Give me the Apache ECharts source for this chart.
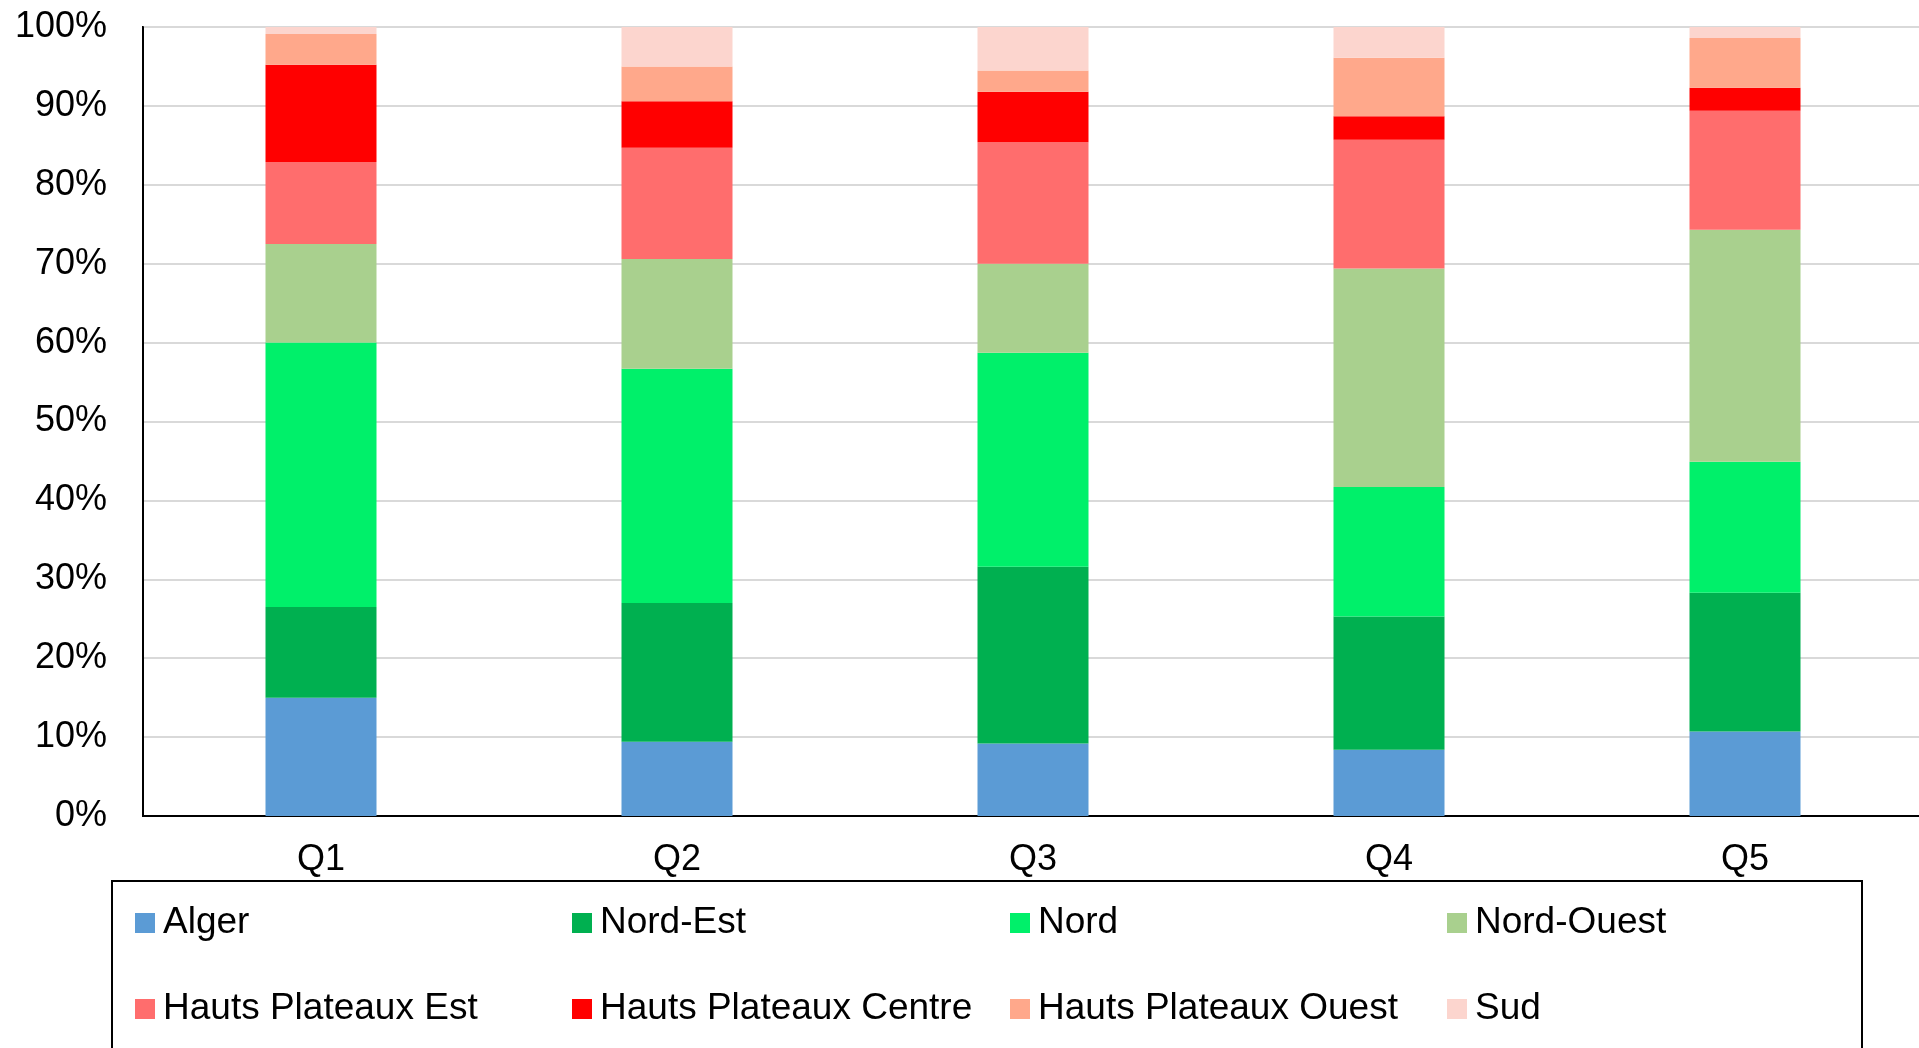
<!DOCTYPE html>
<html>
<head>
<meta charset="utf-8">
<style>
  html, body { margin: 0; padding: 0; background: #fff; overflow: hidden; }
  #chart { width: 1930px; height: 1048px; }
</style>
<script src="https://cdn.jsdelivr.net/npm/echarts@6/dist/echarts.min.js"></script>
</head>
<body>
<div id="chart"></div>
<script>
const categories = ['Q1', 'Q2', 'Q3', 'Q4', 'Q5'];
const alger      = [15.0,  9.4,  9.2,  8.4, 10.7];
const nordEst    = [11.5, 17.6, 22.4, 16.9, 17.6];
const nord       = [33.5, 29.7, 27.1, 16.4, 16.6];
const nordOuest  = [12.5, 13.9, 11.3, 27.7, 29.4];
const hpEst      = [10.4, 14.1, 15.4, 16.3, 15.1];
const hpCentre   = [12.3,  5.9,  6.4,  3.0,  2.9];
const hpOuest    = [ 3.9,  4.4,  2.7,  7.4,  6.3];
const sud        = [ 0.9,  5.0,  5.5,  3.9,  1.4];

const seriesNames = ['Alger', 'Nord-Est', 'Nord', 'Nord-Ouest',
  'Hauts Plateaux Est', 'Hauts Plateaux Centre', 'Hauts Plateaux Ouest', 'Sud'];
const seriesData = [alger, nordEst, nord, nordOuest, hpEst, hpCentre, hpOuest, sud];
const colors = ['#5B9BD5', '#00B050', '#00F06A', '#A9D08E', '#FF6D6D', '#FF0000', '#FFA88B', '#FCD5CE'];

const FONT = '"Liberation Sans", Arial, Helvetica, sans-serif';

const chart = echarts.init(document.getElementById('chart'), null, { renderer: 'canvas' });

const legendCols = [[0, 4], [1, 5], [2, 6], [3, 7]];
const colLeft = [135, 572, 1010, 1447];

const legends = legendCols.map((idx, c) => ({
  show: true,
  orient: 'vertical',
  left: colLeft[c],
  top: 903,
  padding: 0,
  itemWidth: 20,
  itemHeight: 20,
  itemGap: 46,
  icon: 'rect',
  selectedMode: false,
  data: idx.map(i => seriesNames[i]),
  textStyle: { fontFamily: FONT, fontSize: 37, color: '#000', lineHeight: 40, padding: [0, 0, 0, 3] }
}));

chart.setOption({
  animation: false,
  backgroundColor: '#fff',
  color: colors,
  grid: {
    left: 143, top: 27, width: 1780, height: 789,
    show: true, borderColor: '#000', borderWidth: 2, backgroundColor: 'transparent'
  },
  legend: legends,
  graphic: [{
    type: 'rect',
    shape: { x: 112, y: 881, width: 1750, height: 220 },
    style: { fill: 'none', stroke: '#000', lineWidth: 2 },
    silent: true, z: 10
  }],
  xAxis: {
    type: 'category',
    data: categories,
    axisLine: { show: true, lineStyle: { color: '#000', width: 2 } },
    axisTick: { show: false },
    axisLabel: { fontFamily: FONT, fontSize: 36, color: '#000', margin: 26 }
  },
  yAxis: {
    type: 'value',
    min: 0, max: 100, interval: 10,
    axisLine: { show: true, lineStyle: { color: '#000', width: 2 } },
    axisTick: { show: false },
    splitLine: { show: true, lineStyle: { color: '#D9D9D9', width: 2 } },
    axisLabel: { fontFamily: FONT, fontSize: 36, color: '#000', margin: 36, formatter: '{value}%' }
  },
  series: seriesNames.map((name, i) => ({
    name: name,
    type: 'bar',
    stack: 'total',
    barWidth: 111,
    data: seriesData[i],
    itemStyle: { color: colors[i] }
  }))
});
</script>
</body>
</html>
